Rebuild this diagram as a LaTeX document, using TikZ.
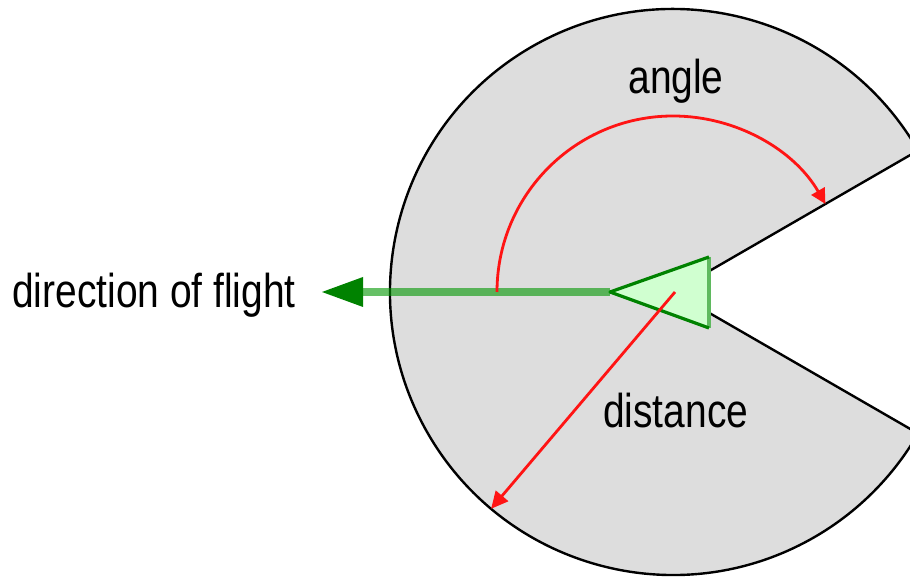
\documentclass[tikz,border=0pt]{standalone}
\usepackage{fontspec}
\newfontfamily\labfont[FakeStretch=0.82]{Liberation Sans}
\usetikzlibrary{arrows.meta,calc}
\definecolor{pacgray}{RGB}{221,221,221}
\definecolor{darkgrn}{RGB}{0,130,0}
\definecolor{lightgrn}{RGB}{208,255,208}
\definecolor{flightgrn}{RGB}{0,150,0}
\definecolor{edgegrn}{RGB}{95,185,95}
\definecolor{redline}{RGB}{255,20,20}
\begin{document}
\begin{tikzpicture}[x=1pt,y=1pt,
  lab/.style={font=\labfont\fontsize{47.5}{52}\selectfont, inner sep=0pt, text=black},
  pac/.style={fill=pacgray, draw=black, line width=2.4pt, line join=round},
  redarrow/.style={draw=redline, line width=2.8pt, -{Triangle[length=17pt,width=16pt,fill=redline]}},
  flightline/.style={draw=flightgrn, draw opacity=0.6, line width=7.5pt},
  headfill/.style={fill=darkgrn},
  plane/.style={fill=lightgrn},
  planeedge/.style={draw=darkgrn, line width=3.2pt, line join=round},
  planeback/.style={draw=edgegrn, line width=4pt}
]
\useasboundingbox (0,0) rectangle (910,577);
\clip (0,0) rectangle (910,577);
\coordinate (C) at (673,285);
% coverage area
\draw[pac] (C) -- ($(C)+(30:283)$) arc[start angle=30,end angle=330,radius=283] -- cycle;
% plane
\coordinate (pTip) at (610,285);
\coordinate (pTop) at (709,320);
\coordinate (pBot) at (709,249);
\fill[plane] (pTip) -- (pTop) -- (pBot) -- cycle;
\draw[planeback] (pTop) -- (pBot);
\draw[planeedge] (pBot) -- (pTip) -- (pTop);
% direction of flight
\coordinate (headBase) at (363,285);
\coordinate (flightTip) at (322,285);
\draw[flightline] (pTip) -- (headBase);
\fill[headfill] (flightTip) -- ($(headBase)+(0,15)$) -- ($(headBase)+(0,-15)$) -- cycle;
% angle arc
\coordinate (arcStart) at ($(C)+(180:176)$);
\draw[redarrow,-{Triangle[length=15pt,width=15pt,fill=redline]}] (arcStart) arc[start angle=180,end angle=30,radius=176];
% distance
\coordinate (dStart) at (675,285);
\coordinate (dEnd) at ($(C)+(230:283)$);
\draw[redarrow] (dStart) -- (dEnd);
% labels
\node[lab, anchor=base] (lblangle) at (676,483) {angle};
\node[lab, anchor=base west] (lblflight) at (12,269) {direction of flight};
\node[lab, anchor=base west] (lbldist) at (603,149) {distance};
\end{tikzpicture}
\end{document}
